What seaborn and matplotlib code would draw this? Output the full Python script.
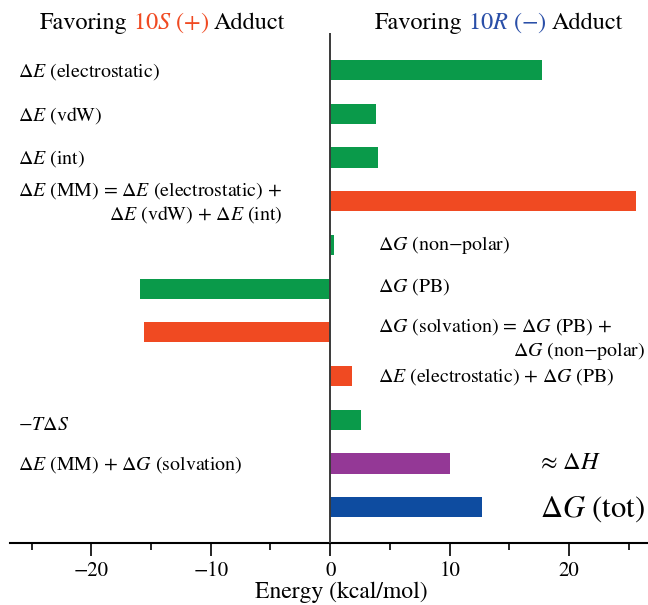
import matplotlib
matplotlib.use("Agg")
import matplotlib.pyplot as plt
import seaborn as sns
import pandas as pd
from matplotlib.ticker import MultipleLocator

# Energy decomposition terms (kcal/mol), top to bottom
terms = ["elec", "vdw", "int", "mm", "nonpolar", "pb", "solv",
         "elec_pb", "tds", "mm_solv", "tot"]
energies = [17.7, 3.8, 4.0, 25.6, 0.3, -15.9, -15.6, 1.8, 2.6, 10.0, 12.7]

GREEN, RED, PURPLE, BLUE = "#0a9a4a", "#f04a22", "#943896", "#0e4ca0"
bar_colors = [GREEN, GREEN, GREEN, RED, GREEN, GREEN, RED, RED, GREEN, PURPLE, BLUE]

left_labels = {
    0: r"$\Delta E$ (electrostatic)",
    1: r"$\Delta E$ (vdW)",
    2: r"$\Delta E$ (int)",
    3: "$\\Delta E$ (MM) = $\\Delta E$ (electrostatic) +\n$\\Delta E$ (vdW) + $\\Delta E$ (int)",
    8: r"$-T\Delta S$",
    9: r"$\Delta E$ (MM) + $\Delta G$ (solvation)",
}
right_labels = {
    4: "$\\Delta G$ (non\u2212polar)",
    5: r"$\Delta G$ (PB)",
    6: r"$\Delta G$ (solvation) = $\Delta G$ (PB) +",
    7: r"$\Delta E$ (electrostatic) + $\Delta G$ (PB)",
}
solv_second_line = "$\\Delta G$ (non\u2212polar)"
note_labels = {9: "\u2248 $\\Delta H$", 10: r"$\Delta G$ (tot)"}

xticks = [-20, -10, 0, 10, 20]
xlabel = "Energy (kcal/mol)"
title_left = [("Favoring", "black"), ("10$\\mathit{S}$ (+)", RED), ("Adduct", "black")]
title_right = [("Favoring", "black"), ("10$\\mathit{R}$ (\u2212)", "#2a4fa8"), ("Adduct", "black")]

sns.set_theme(style="white")
plt.rcParams["font.family"] = ["STIXGeneral"]
plt.rcParams["mathtext.fontset"] = "stix"
plt.rcParams["text.color"] = "black"
plt.rcParams["axes.labelcolor"] = "black"
plt.rcParams["xtick.color"] = "black"

W, H = 648, 605
fig = plt.figure(figsize=(W / 100, H / 100), dpi=100)
ax = fig.add_axes([10 / W, 1 - 543 / H, 638 / W, (543 - 33) / H])

df = pd.DataFrame({"term": terms, "energy": energies})
sns.barplot(data=df, x="energy", y="term", hue="term", palette=bar_colors,
            orient="h", width=0.46, legend=False, saturation=1,
            linewidth=0, ax=ax)

ax.set_xlim(-26.8, 26.6)
ax.set_ylim(10.82, -0.85)
ax.set_yticks([])
ax.set_ylabel("")
ax.set_xticks(xticks)
ax.set_xticklabels([f"{t}".replace("-", "\u2212") for t in xticks])
ax.xaxis.set_minor_locator(MultipleLocator(5))
ax.tick_params(axis="x", which="major", direction="out", length=9, width=1.2,
               labelsize=15, bottom=True, pad=4)
ax.tick_params(axis="x", which="minor", direction="out", length=5, width=1.2,
               bottom=True)
ax.set_xlabel(xlabel, fontsize=17, labelpad=6)
ax.xaxis.set_label_coords((341 - 10) / 638, -0.075)

for side in ["left", "right", "top"]:
    ax.spines[side].set_visible(False)
ax.spines["bottom"].set_linewidth(1.5)
ax.spines["bottom"].set_color("black")
ax.axvline(0, color="#3a3a3a", lw=1.4, zorder=3)

# Row annotations
LABEL_SIZE = 14.3
left_offsets = {8: 0.14}
right_offsets = {5: -0.05, 6: -0.14}
for row, txt in left_labels.items():
    ax.text(-26.1, row + left_offsets.get(row, 0.03), txt, fontsize=LABEL_SIZE,
            ha="left", va="center", multialignment="right")
for row, txt in right_labels.items():
    ax.text(4.0, row + right_offsets.get(row, 0.0), txt, fontsize=LABEL_SIZE,
            ha="left", va="center")
ax.text(15.3, 6.42, solv_second_line, fontsize=LABEL_SIZE, ha="left", va="center")
ax.text(17.6, 9.0, note_labels[9], fontsize=17.5, ha="left", va="center")
ax.text(17.6, 10.05, note_labels[10], fontsize=22, ha="left", va="center")

# Two-colour headings, laid out piece by piece
renderer = fig.canvas.get_renderer()


def heading(x_px, y_px, pieces, size=17.5, gap=5):
    cur = x_px
    for s, color in pieces:
        t = fig.text(cur / W, 1 - y_px / H, s, color=color, fontsize=size,
                     ha="left", va="baseline")
        cur = t.get_window_extent(renderer).x1 + gap


heading(40, 29, title_left)
heading(375, 29, title_right)

fig.savefig("out.png", dpi=100)
